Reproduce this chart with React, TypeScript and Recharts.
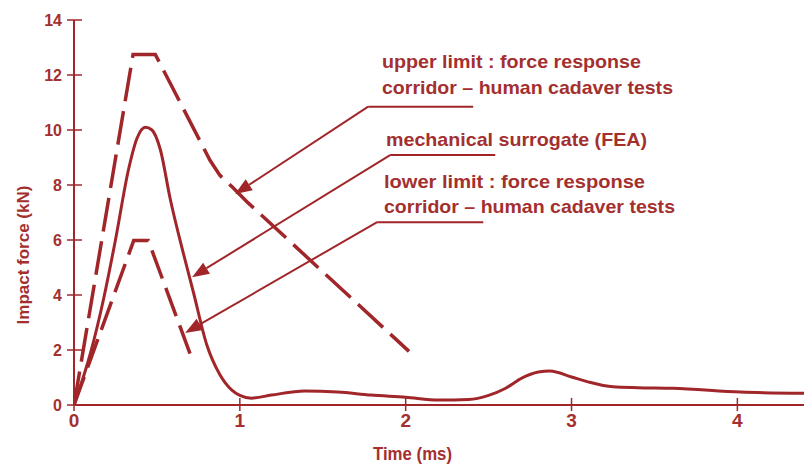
import React from 'react';
import { LineChart, Line, XAxis, YAxis, ReferenceLine, Customized } from 'recharts';

const LINE_COLOR = '#a1262a';
const TEXT_COLOR = '#a3302f';
const FONT = '"Liberation Sans", Arial, sans-serif';

// Upper limit corridor (dashed)
const upperTime = [0, 0.356, 0.49, 0.82, 0.88, 0.95, 1.05, 2.02];
const upperForce = [0, 12.75, 12.75, 8.9, 8.35, 7.95, 7.35, 1.95];

// Lower limit corridor (dashed)
const lowerTime = [0, 0.36, 0.448, 0.71];
const lowerForce = [0, 5.98, 5.98, 1.7];

// Mechanical surrogate (FEA) (solid)
const feaTime = [0, 0.1, 0.177, 0.25, 0.33, 0.38, 0.43, 0.47, 0.52, 0.58, 0.66, 0.72, 0.8, 0.88, 0.95, 1.0, 1.07, 1.19, 1.39, 1.59, 1.79, 2.0, 2.2, 2.38, 2.5, 2.6, 2.7, 2.8, 2.87, 3.0, 3.1, 3.25, 3.4, 3.61, 4.02, 4.45];
const feaForce = [0, 1.9, 3.82, 6.0, 8.6, 9.7, 10.1, 10.0, 9.3, 7.5, 5.5, 4.1, 2.2, 1.1, 0.55, 0.35, 0.25, 0.36, 0.51, 0.47, 0.36, 0.28, 0.18, 0.2, 0.35, 0.6, 0.98, 1.2, 1.24, 1.02, 0.84, 0.66, 0.63, 0.61, 0.47, 0.42];

const xTicks = [0, 1, 2, 3, 4];
const yTicks = [0, 2, 4, 6, 8, 10, 12, 14];

// Annotation texts
const upperText = ['upper limit  : force response', 'corridor \u2013 human cadaver tests'];
const feaText = ['mechanical surrogate (FEA)'];
const lowerText = ['lower  limit : force response', 'corridor \u2013 human cadaver tests'];

// Annotation arrows in data coordinates: [underline end, elbow, arrow tip]
const upperArrow = [{ x: 2.407, y: 10.85 }, { x: 1.774, y: 10.85 }, { x: 0.971, y: 7.67 }];
const feaArrow = [{ x: 2.54, y: 9.09 }, { x: 1.906, y: 9.09 }, { x: 0.712, y: 4.65 }];
const lowerArrow = [{ x: 2.468, y: 6.65 }, { x: 1.828, y: 6.65 }, { x: 0.67, y: 2.62 }];

const toPoints = (t: number[], v: number[]) => t.map((x, i) => ({ t: x, v: v[i] }));
const upperData = toPoints(upperTime, upperForce);
const lowerData = toPoints(lowerTime, lowerForce);
const feaData = toPoints(feaTime, feaForce);

const ArrowShape = (props: any) => {
  const { x1, y1, x2, y2 } = props;
  const ang = Math.atan2(y2 - y1, x2 - x1);
  const len = 17;
  const half = 6.5;
  const bx = x2 - len * Math.cos(ang);
  const by = y2 - len * Math.sin(ang);
  const px = -Math.sin(ang) * half;
  const py = Math.cos(ang) * half;
  return (
    <g>
      <line x1={x1} y1={y1} x2={bx} y2={by} stroke={LINE_COLOR} strokeWidth={2} />
      <polygon points={`${x2},${y2} ${bx + px},${by + py} ${bx - px},${by - py}`} fill={LINE_COLOR} />
    </g>
  );
};

const YTick = (props: any) => {
  const { x, y, payload } = props;
  return (
    <g>
      <line x1={x - 7} y1={y} x2={x + 8} y2={y} stroke={LINE_COLOR} strokeWidth={1.5} />
      <text x={x - 12} y={y + 5.5} textAnchor="end" fontFamily={FONT} fontWeight="bold" fontSize={16} fill={TEXT_COLOR}>
        {payload.value}
      </text>
    </g>
  );
};

const XTick = (props: any) => {
  const { x, y, payload } = props;
  return (
    <g>
      <line x1={x} y1={y - 7} x2={x} y2={y + 6} stroke={LINE_COLOR} strokeWidth={1.5} />
      <text x={x} y={y + 22} textAnchor="middle" fontFamily={FONT} fontWeight="bold" fontSize={19} fill={TEXT_COLOR}>
        {payload.value}
      </text>
    </g>
  );
};

const textStyle = { fontFamily: FONT, fontWeight: 'bold' as const, fill: TEXT_COLOR };

const Texts = () => (
  <g>
    <text x={374} y={60} fontSize={19} textLength={259} lengthAdjust="spacingAndGlyphs" style={textStyle}>{upperText[0]}</text>
    <text x={374} y={86} fontSize={19} textLength={291} lengthAdjust="spacingAndGlyphs" style={textStyle}>{upperText[1]}</text>
    <text x={378} y={138} fontSize={19} textLength={261} lengthAdjust="spacingAndGlyphs" style={textStyle}>{feaText[0]}</text>
    <text x={376} y={180} fontSize={19} textLength={261} lengthAdjust="spacingAndGlyphs" style={textStyle}>{lowerText[0]}</text>
    <text x={376} y={205} fontSize={19} textLength={291} lengthAdjust="spacingAndGlyphs" style={textStyle}>{lowerText[1]}</text>
    <text x={404.5} y={452} fontSize={18} textAnchor="middle" textLength={79} lengthAdjust="spacingAndGlyphs" style={textStyle}>Time (ms)</text>
    <text x={15} y={247} fontSize={17} textAnchor="middle" dominantBaseline="central" transform="rotate(-90 15 247)" style={textStyle}>Impact force (kN)</text>
  </g>
);

export default function App() {
  return (
    <div style={{ width: 804, height: 460 }}>
      <LineChart width={804} height={460} margin={{ top: 12, right: 0, left: 0, bottom: 33 }}>
        <XAxis
          dataKey="t"
          type="number"
          domain={[0, 4.45]}
          allowDataOverflow
          ticks={xTicks}
          height={30}
          axisLine={{ stroke: LINE_COLOR, strokeWidth: 2 }}
          tickLine={false}
          tickSize={0}
          tickMargin={0}
          tick={<XTick />}
          interval={0}
        />
        <YAxis
          type="number"
          domain={[0, 14]}
          ticks={yTicks}
          width={66}
          axisLine={{ stroke: LINE_COLOR, strokeWidth: 2 }}
          tickLine={false}
          tickSize={0}
          tickMargin={0}
          tick={<YTick />}
          interval={0}
        />
        <Line data={upperData} dataKey="v" type="linear" stroke={LINE_COLOR} strokeWidth={3.5} strokeDasharray="34 10" dot={false} isAnimationActive={false} />
        <Line data={lowerData} dataKey="v" type="linear" stroke={LINE_COLOR} strokeWidth={3.5} strokeDasharray="30 10" dot={false} isAnimationActive={false} />
        <Line data={feaData} dataKey="v" type="monotone" stroke={LINE_COLOR} strokeWidth={3} dot={false} isAnimationActive={false} />
        {[upperArrow, feaArrow, lowerArrow].map((a, i) => (
          <ReferenceLine key={'h' + i} segment={[a[0], a[1]]} stroke={LINE_COLOR} strokeWidth={2} />
        ))}
        {[upperArrow, feaArrow, lowerArrow].map((a, i) => (
          <ReferenceLine key={'d' + i} segment={[a[1], a[2]]} shape={ArrowShape} />
        ))}
        <Customized component={Texts} />
      </LineChart>
    </div>
  );
}
